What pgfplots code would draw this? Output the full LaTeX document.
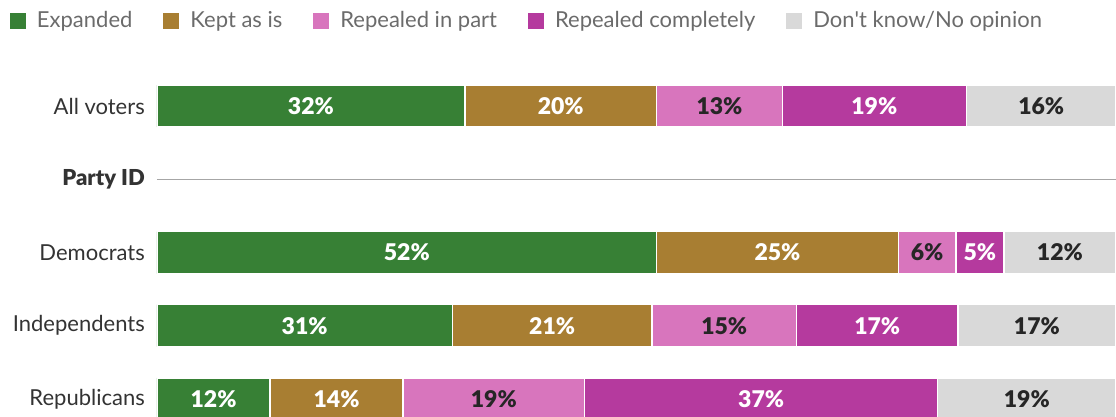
\documentclass[border=0pt]{standalone}
\usepackage{pgfplots}
\pgfplotsset{compat=1.18}
\usepackage{pgfplotstable}
\usepackage{fontspec}
\setmainfont{Lato}
\newfontfamily\heavy{Lato}[UprightFont=* Black]
\definecolor{cExp}{HTML}{378035}
\definecolor{cKept}{HTML}{A87E32}
\definecolor{cPart}{HTML}{D875BD}
\definecolor{cComp}{HTML}{B53A9E}
\definecolor{cDk}{HTML}{D9D9D9}
\definecolor{cText}{HTML}{333333}
\definecolor{cLeg}{HTML}{6B6B6B}
\definecolor{cDark}{HTML}{262626}

% segment values (share of bar)
\pgfplotstableread{
row exp kept part comp dk
0 32.1 20.0 13.1 19.2 15.6
2 52.1 25.2 6.0 5.0 11.7
3 30.8 20.8 15.1 16.8 16.5
4 11.8 13.85 18.95 36.8 18.6
}\bars

% label positions (segment midpoints) and printed labels
\pgfplotstableread{
row m1 l1 m2 l2 m3 l3 m4 l4 m5 l5
0 16.05 32 42.1 20 58.65 13 74.8 19 92.2 16
2 26.05 52 64.7 25 80.3 6 85.8 5 94.15 12
3 15.4 31 41.2 21 59.15 15 75.1 17 91.75 17
4 5.9 12 18.725 14 35.125 19 63.0 37 90.7 19
}\labels

\pgfplotsset{
  base/.style={
    at={(157pt,0pt)}, anchor=south west,
    scale only axis, width=959pt, height=332pt,
    xmin=0, xmax=100, ymin=-0.287, ymax=4.246, y dir=reverse,
  },
}

\begin{document}
\begin{tikzpicture}
\useasboundingbox (0,0) rectangle (1116pt,417pt);
\begin{axis}[base,
  xbar stacked, bar width=42pt,
  axis line style={draw=none}, xtick=\empty,
  ytick={0,1,2,3,4},
  yticklabels={All voters,{\heavy Party ID},Democrats,Independents,Republicans},
  major tick length=0pt, ytick style={draw=none},
  yticklabel style={font=\fontsize{22}{22}\selectfont, text=cText, inner xsep=0pt, xshift=-12pt},
  legend columns=-1,
  legend style={at={(axis description cs:-0.1533,1.194)}, anchor=west,
    draw=none, fill=none, inner sep=0pt, outer sep=0pt,
    font=\fontsize{22}{22}\selectfont, text=cLeg,
    nodes={inner sep=0pt},
    /tikz/every odd column/.append style={column sep=11pt},
    /tikz/every even column/.append style={column sep=31pt}},
  legend image code/.code={\fill[#1,draw=none] (0pt,-8pt) rectangle (16pt,8pt);},
  every axis plot/.append style={draw=white, line width=1.5pt},
]
\addplot[fill=cExp] table[x=exp,y=row] {\bars};
\addlegendentry{Expanded}
\addplot[fill=cKept] table[x=kept,y=row] {\bars};
\addlegendentry{Kept as is}
\addplot[fill=cPart] table[x=part,y=row] {\bars};
\addlegendentry{Repealed in part}
\addplot[fill=cComp] table[x=comp,y=row] {\bars};
\addlegendentry{Repealed completely}
\addplot[fill=cDk] table[x=dk,y=row] {\bars};
\addlegendentry{Don\textquotesingle t know/No opinion}
\draw[color=black!35, line width=1.5pt] (axis cs:0,1) -- (axis cs:100,1);
\end{axis}
\begin{axis}[base, hide axis,
  nodes near coords={\pgfplotspointmeta\%},
  point meta=explicit symbolic,
  every node near coord/.append style={anchor=center, font=\fontsize{23}{23}\selectfont\heavy},
]
\addplot[draw=none, mark=none, nodes near coords style={text=white}] table[x=m1,y=row,meta=l1] {\labels};
\addplot[draw=none, mark=none, nodes near coords style={text=white}] table[x=m2,y=row,meta=l2] {\labels};
\addplot[draw=none, mark=none, nodes near coords style={text=cDark}] table[x=m3,y=row,meta=l3] {\labels};
\addplot[draw=none, mark=none, nodes near coords style={text=white}] table[x=m4,y=row,meta=l4] {\labels};
\addplot[draw=none, mark=none, nodes near coords style={text=cDark}] table[x=m5,y=row,meta=l5] {\labels};
\end{axis}
\end{tikzpicture}
\end{document}
